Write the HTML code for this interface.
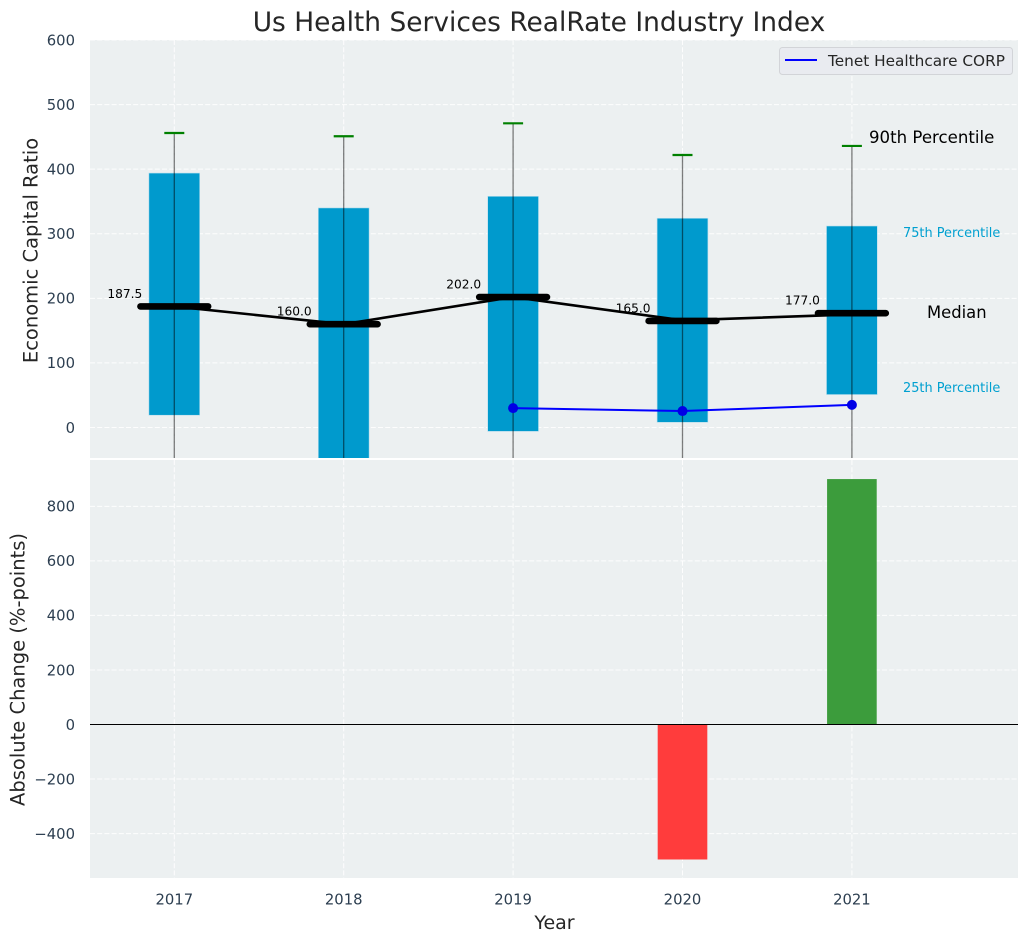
<!DOCTYPE html>
<html>
<head>
<meta charset="utf-8">
<title>Us Health Services RealRate Industry Index</title>
<style>
html,body{margin:0;padding:0;background:#fff;}
svg{display:block;font-family:"DejaVu Sans","Liberation Sans",sans-serif;}
</style>
</head>
<body>
<svg id="chart" xmlns="http://www.w3.org/2000/svg" width="1029" height="942" viewBox="0 0 1029 942">
  <defs>
    <clipPath id="top-clip"><rect x="90" y="40" width="928" height="418"/></clipPath>
    <clipPath id="bottom-clip"><rect x="90" y="460" width="928" height="418"/></clipPath>
  </defs>
  <text x="539" y="31" text-anchor="middle" font-size="26.45" fill="#262626">Us Health Services RealRate Industry Index</text>
  <rect x="90" y="40" width="928" height="418" fill="#ecf0f1"/>
  <rect x="90" y="460" width="928" height="418" fill="#ecf0f1"/>
  <g id="top-grid" clip-path="url(#top-clip)"></g>
  <g id="bottom-grid" clip-path="url(#bottom-clip)"></g>
  <g id="top-marks" clip-path="url(#top-clip)"></g>
  <g id="bottom-marks" clip-path="url(#bottom-clip)"></g>
  <g id="axis-labels"></g>
  <g id="annotations"></g>
  <text transform="translate(37.5 250.5) rotate(-90)" text-anchor="middle" font-size="19.5" fill="#262626">Economic Capital Ratio</text>
  <text transform="translate(24.5 669.5) rotate(-90)" text-anchor="middle" font-size="19.5" fill="#262626">Absolute Change (%-points)</text>
  <text x="554.5" y="929" text-anchor="middle" font-size="19" fill="#262626">Year</text>
  <g>
    <rect x="779.5" y="47.5" width="233" height="27" rx="3" fill="#e9ebf0" stroke="#d2d4d8" stroke-width="1"/>
    <line x1="785" y1="60" x2="817" y2="60" stroke="#0000ff" stroke-width="2"/>
    <text x="828" y="66" font-size="15.3" fill="#262626">Tenet Healthcare CORP</text>
  </g>
</svg>
<script>
var years = [2017, 2018, 2019, 2020, 2021];
var p90 = [456, 451, 471, 422, 436];
var p75 = [394, 340, 358, 324, 312];
var medians = [187.5, 160, 202, 165, 177];
var medianLine = [187.5, 160, 202, 166, 175];
var p25 = [19, -60, -6, 8, 51];
var p10 = [-120, -150, -110, -100, -90];
var tenetYears = [2019, 2020, 2021];
var tenetValues = [30, 25.5, 35];
var changeYears = [2020, 2021];
var changeValues = [-495, 900];
var topTicks = [600, 500, 400, 300, 200, 100, 0];
var bottomTicks = [800, 600, 400, 200, 0, -200, -400];

var NS = 'http://www.w3.org/2000/svg';
function xPos(v) { return 174.3 + (v - 2017) * 169.4; }
function yTop(v) { return 427.5 - v * 0.6458; }
function yBottom(v) { return 724.5 - v * 0.2727; }
function xSpan(years) { return years * 169.4; }
function add(parent, tag, attrs, content) {
  var el = document.createElementNS(NS, tag);
  for (var k in attrs) { el.setAttribute(k, attrs[k]); }
  if (content !== undefined) { el.textContent = content; }
  parent.appendChild(el);
  return el;
}
function gridLine(parent, x1, y1, x2, y2) {
  return add(parent, 'line', {x1: x1, y1: y1, x2: x2, y2: y2, stroke: '#ffffff', 'stroke-width': 1, 'stroke-dasharray': '5 2.2', opacity: 0.9});
}
function fmt(v) { return (v < 0 ? '\u2212' + Math.abs(v) : String(v)); }

var topGrid = document.getElementById('top-grid');
var bottomGrid = document.getElementById('bottom-grid');
var topMarks = document.getElementById('top-marks');
var bottomMarks = document.getElementById('bottom-marks');
var labels = document.getElementById('axis-labels');
var notes = document.getElementById('annotations');
var el;

topTicks.forEach(function (t) {
  el = gridLine(topGrid, 90, yTop(t), 1018, yTop(t));
  
  
  el = add(labels, 'text', {x: 75, y: yTop(t) + 5.3, 'text-anchor': 'end', 'font-size': 14.8, fill: '#2c3e50'}, fmt(t));
  
  
});
bottomTicks.forEach(function (t) {
  el = gridLine(bottomGrid, 90, yBottom(t), 1018, yBottom(t));
  
  
  el = add(labels, 'text', {x: 75, y: yBottom(t) + 5.3, 'text-anchor': 'end', 'font-size': 14.8, fill: '#2c3e50'}, fmt(t));
  
  
});
years.forEach(function (yr) {
  el = gridLine(topGrid, xPos(yr), 40, xPos(yr), 458);
  
  
  el = gridLine(bottomGrid, xPos(yr), 460, xPos(yr), 878);
  
  
  el = add(labels, 'text', {x: xPos(yr), y: 904.5, 'text-anchor': 'middle', 'font-size': 14.8, fill: '#2c3e50'}, String(yr));
  
  
});

years.forEach(function (yr, i) {
  var bw = xSpan(0.3);
  el = add(topMarks, 'rect', {x: xPos(yr) - bw / 2, y: yTop(p75[i]), width: bw, height: yTop(p25[i]) - yTop(p75[i]), fill: '#009acd', stroke: '#b9dfee', 'stroke-width': 0.6});
  
  
});
years.forEach(function (yr, i) {
  el = add(topMarks, 'line', {x1: xPos(yr), y1: yTop(p90[i]), x2: xPos(yr), y2: yTop(p10[i]), stroke: '#000000', 'stroke-opacity': 0.5, 'stroke-width': 1.3});
  
  
  el = add(topMarks, 'line', {x1: xPos(yr) - 10, y1: yTop(p90[i]), x2: xPos(yr) + 10, y2: yTop(p90[i]), stroke: '#008000', 'stroke-width': 2.2});
  
  
});

el = add(topMarks, 'polyline', {points: years.map(function (yr, i) { return xPos(yr) + ',' + yTop(medianLine[i]); }).join(' '), fill: 'none', stroke: '#000000', 'stroke-width': 2.6, 'stroke-linejoin': 'round'});



years.forEach(function (yr, i) {
  var hw = xSpan(0.2);
  el = add(topMarks, 'line', {x1: xPos(yr) - hw, y1: yTop(medians[i]), x2: xPos(yr) + hw, y2: yTop(medians[i]), stroke: '#000000', 'stroke-width': 6.6, 'stroke-linecap': 'round'});
  
  
  el = add(notes, 'text', {x: xPos(yr) - 32, y: yTop(medians[i]) - 8.5, 'text-anchor': 'end', 'font-size': 12.2, fill: '#000000'}, medians[i].toFixed(1));
  
  
});

el = add(topMarks, 'polyline', {points: tenetYears.map(function (yr, i) { return xPos(yr) + ',' + yTop(tenetValues[i]); }).join(' '), fill: 'none', stroke: '#0000ff', 'stroke-width': 2});


tenetYears.forEach(function (yr, i) {
  el = add(topMarks, 'circle', {cx: xPos(yr), cy: yTop(tenetValues[i]), r: 5, fill: '#0000e6'});
  
  
});

changeYears.forEach(function (yr, i) {
  var v = changeValues[i];
  var bw = xSpan(0.293);
  el = add(bottomMarks, 'rect', {x: xPos(yr) - bw / 2, y: Math.min(yBottom(v), yBottom(0)), width: bw, height: Math.abs(yBottom(v) - yBottom(0)), fill: v < 0 ? '#ff3c3c' : '#3c9c3c'});
  
  
});
el = add(bottomMarks, 'line', {x1: 90, y1: yBottom(0), x2: 1018, y2: yBottom(0), stroke: '#000000', 'stroke-width': 1.1});



el = add(notes, 'text', {x: 869, y: 143, 'font-size': 16.6, fill: '#000000'}, '90th Percentile');


el = add(notes, 'text', {x: 903, y: 237, 'font-size': 12.9, fill: '#00a0d0'}, '75th Percentile');


el = add(notes, 'text', {x: 927, y: 318, 'font-size': 16.4, fill: '#000000'}, 'Median');


el = add(notes, 'text', {x: 903, y: 392, 'font-size': 12.9, fill: '#00a0d0'}, '25th Percentile');


</script>
</body>
</html>
